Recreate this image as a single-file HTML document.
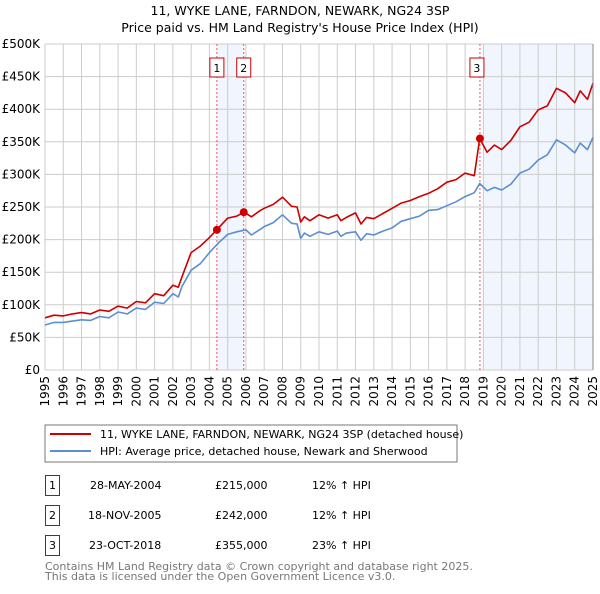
<!DOCTYPE html>
<html><head><meta charset="utf-8"><style>
body{margin:0;background:#fff;width:600px;height:590px;overflow:hidden;font-family:"DejaVu Sans","Liberation Sans",sans-serif;}
svg text{font-family:"DejaVu Sans","Liberation Sans",sans-serif;}
</style></head><body>
<svg id="chart" width="600" height="590" xmlns="http://www.w3.org/2000/svg">
<text x="300" y="15" font-size="12.5" text-anchor="middle">11, WYKE LANE, FARNDON, NEWARK, NG24 3SP</text>
<text x="300" y="32" font-size="12.5" text-anchor="middle">Price paid vs. HM Land Registry's House Price Index (HPI)</text>
<g id="plot"></g>
<g>
<rect x="45" y="425" width="412" height="37" fill="#fff" stroke="#777" stroke-width="1"/>
<line x1="50" y1="434" x2="91" y2="434" stroke="#cc0000" stroke-width="2"/>
<text x="100" y="438" font-size="11">11, WYKE LANE, FARNDON, NEWARK, NG24 3SP (detached house)</text>
<line x1="50" y1="451" x2="91" y2="451" stroke="#5b8fd0" stroke-width="2"/>
<text x="100" y="455" font-size="11">HPI: Average price, detached house, Newark and Sherwood</text>
</g>
<g font-size="11">
<g><rect x="45.5" y="475.5" width="14" height="20" fill="#fff" stroke="#cc0000"/><text x="52.5" y="489" text-anchor="middle">1</text><text x="90" y="489">28-MAY-2004</text><text x="215" y="489">£215,000</text><text x="312" y="489">12% ↑ HPI</text></g>
<g><rect x="45.5" y="505.5" width="14" height="20" fill="#fff" stroke="#cc0000"/><text x="52.5" y="519" text-anchor="middle">2</text><text x="88" y="519">18-NOV-2005</text><text x="215" y="519">£242,000</text><text x="312" y="519">12% ↑ HPI</text></g>
<g><rect x="45.5" y="535.5" width="14" height="20" fill="#fff" stroke="#cc0000"/><text x="52.5" y="549" text-anchor="middle">3</text><text x="89" y="549">23-OCT-2018</text><text x="215" y="549">£355,000</text><text x="312" y="549">23% ↑ HPI</text></g>
</g>
<text x="45" y="570" font-size="11" fill="#777">Contains HM Land Registry data © Crown copyright and database right 2025.</text>
<text x="45" y="580" font-size="11" fill="#777">This data is licensed under the Open Government Licence v3.0.</text>
</svg>
<script>
const yTicks=[0,50,100,150,200,250,300,350,400,450,500];
const yTickLabels=["£0","£50K","£100K","£150K","£200K","£250K","£300K","£350K","£400K","£450K","£500K"];
const years=[1995,1996,1997,1998,1999,2000,2001,2002,2003,2004,2005,2006,2007,2008,2009,2010,2011,2012,2013,2014,2015,2016,2017,2018,2019,2020,2021,2022,2023,2024,2025];
const hpiDates=[1995,1995.5,1996,1996.5,1997,1997.5,1998,1998.5,1999,1999.5,2000,2000.5,2001,2001.5,2002,2002.3,2002.5,2003,2003.5,2004,2004.5,2005,2005.5,2006,2006.3,2006.8,2007,2007.5,2008,2008.5,2008.8,2009,2009.2,2009.5,2010,2010.5,2011,2011.2,2011.5,2012,2012.3,2012.6,2013,2013.5,2014,2014.5,2015,2015.5,2016,2016.5,2017,2017.5,2018,2018.5,2018.8,2019.2,2019.6,2020,2020.5,2021,2021.5,2022,2022.5,2023,2023.5,2024,2024.3,2024.7,2025];
const hpiValues=[69,73,73,75,77,76,82,80,89,86,95,93,104,102,117,112,128,153,163,180,195,208,212,215,207,216,220,226,238,225,224,202,210,205,212,208,213,205,210,212,199,209,207,213,218,228,232,236,245,246,252,258,266,272,286,275,280,276,285,302,308,322,330,353,345,333,348,338,357];
const priceDates=[1995,1995.5,1996,1996.5,1997,1997.5,1998,1998.5,1999,1999.5,2000,2000.5,2001,2001.5,2002,2002.3,2002.5,2003,2003.5,2004,2004.4,2005,2005.5,2005.9,2006.3,2006.8,2007,2007.5,2008,2008.5,2008.8,2009,2009.2,2009.5,2010,2010.5,2011,2011.2,2011.5,2012,2012.3,2012.6,2013,2013.5,2014,2014.5,2015,2015.5,2016,2016.5,2017,2017.5,2018,2018.5,2018.8,2019.2,2019.6,2020,2020.5,2021,2021.5,2022,2022.5,2023,2023.5,2024,2024.3,2024.7,2025];
const priceValues=[80,84,83,86,88,86,92,90,98,95,105,103,117,114,130,127,143,180,190,203,215,233,236,242,235,245,248,254,265,251,250,227,235,229,238,233,238,229,234,241,224,234,232,240,248,256,260,266,271,278,288,292,302,298,355,334,345,338,352,373,380,399,405,432,425,410,428,415,440];
const saleDates=[2004.41,2005.88,2018.81];
const saleValues=[215,242,355];
const saleLabels=["1","2","3"];

const NS="http://www.w3.org/2000/svg";
const plot=document.getElementById('plot');
const X0=45,X1=593,Y0=370,Y1=44;
const xs=d=>X0+(d-1995)/(2025-1995)*(X1-X0);
const ys=v=>Y0-v/500*(Y0-Y1);
function mk(tag,attrs,parent){const e=document.createElementNS(NS,tag);for(const k in attrs)e.setAttribute(k,attrs[k]);(parent||plot).appendChild(e);return e;}
// shading
let s1=mk('rect',{x:xs(saleDates[0]),y:Y1,width:xs(saleDates[1])-xs(saleDates[0]),height:Y0-Y1,fill:'#eef3fc',opacity:0.8});


let s2=mk('rect',{x:xs(2019),y:Y1,width:X1-xs(2019),height:Y0-Y1,fill:'#eef3fc',opacity:0.8});


// grid
yTicks.forEach((t,i)=>{
 let l=mk('line',{x1:X0,x2:X1,y1:ys(t),y2:ys(t),stroke:'#cccccc','stroke-width':1});
 
 
 let tx=mk('text',{x:X0-5,y:ys(t)+4,'font-size':12,'text-anchor':'end'});
 tx.textContent=yTickLabels[i];
 
 
});
years.forEach(y=>{
 let l=mk('line',{x1:xs(y),x2:xs(y),y1:Y1,y2:Y0,stroke:'#cccccc','stroke-width':1});
 
 
 let tx=mk('text',{x:0,y:0,'font-size':12,'text-anchor':'end',transform:`translate(${xs(y)+4},${Y0+6}) rotate(-90)`});
 tx.textContent=y;
 
 
});
// sale vlines and markers labels
saleDates.forEach((d,i)=>{
 let l=mk('line',{x1:xs(d),x2:xs(d),y1:Y1,y2:Y0,stroke:'#ee5555','stroke-width':1,'stroke-dasharray':'2,2'});
 
 
 let bx=mk('rect',{x:xs(d)-(i==2?10:7),y:58,width:14,height:19,fill:'#fff',stroke:'#cc0000'});
 
 
 let t=mk('text',{x:xs(d)-(i==2?3:0),y:72,'font-size':11,'text-anchor':'middle'});
 t.textContent=saleLabels[i];
 
 
});
function path(ds,vs,color,name){
 let p=ds.map((d,i)=>(i?'L':'M')+xs(d).toFixed(1)+','+ys(vs[i]).toFixed(1)).join('');
 let e=mk('path',{d:p,fill:'none',stroke:color,'stroke-width':1.6,'stroke-linejoin':'round'});
 
 
}
path(hpiDates,hpiValues,'#5b8fd0','hpi-line');
path(priceDates,priceValues,'#cc0000','price-line');
saleDates.forEach((d,i)=>{
 let c=mk('circle',{cx:xs(d),cy:ys(saleValues[i]),r:4,fill:'#cc0000'});
 
 
});
let ax=mk('line',{x1:X1,x2:X1,y1:Y1,y2:Y0,stroke:'#888','stroke-width':1});


</script>
</body></html>
